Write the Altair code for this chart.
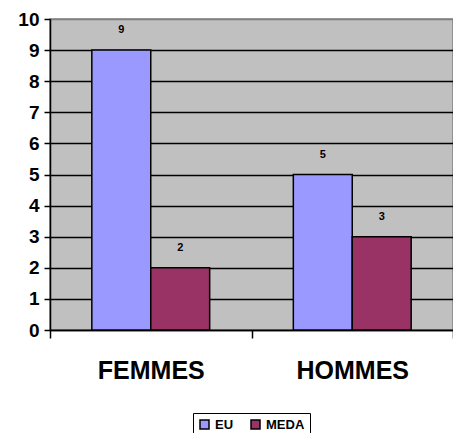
import altair as alt
import pandas as pd

categories = ["FEMMES", "FEMMES", "HOMMES", "HOMMES"]
series = ["EU", "MEDA", "EU", "MEDA"]
values = [9, 2, 5, 3]
y_ticks = list(range(0, 11))

df = pd.DataFrame({"cat": categories, "serie": series, "val": values})

FONT = "Liberation Sans"

x = alt.X(
    "cat:N", title=None,
    scale=alt.Scale(paddingInner=0, paddingOuter=0),
    axis=alt.Axis(labelAngle=0, labelFont=FONT, labelFontSize=25, labelFontWeight="bold",
                  labelColor="black", labelPadding=20, tickBand="extent", tickSize=8,
                  tickColor="black", tickWidth=1.5, domainColor="black", domainWidth=1.5, grid=False),
)
xo = alt.XOffset("serie:N", scale=alt.Scale(paddingInner=0, paddingOuter=0.71))
y = alt.Y(
    "val:Q", title=None,
    scale=alt.Scale(domain=[0, 10], nice=False),
    axis=alt.Axis(values=y_ticks, labelFont=FONT, labelFontSize=19, labelFontWeight="bold",
                  labelColor="black", labelPadding=5, tickSize=6, tickColor="black",
                  tickWidth=1.5, domainColor="black", domainWidth=1.5, grid=True,
                  gridColor={"condition": {"test": "datum.value == 10", "value": "#808080"}, "value": "black"},
                  gridWidth=1.5, gridOpacity=1),
)
color = alt.Color(
    "serie:N", title=None,
    scale=alt.Scale(domain=["EU", "MEDA"], range=["#9999FF", "#993366"]),
    legend=alt.Legend(orient="none", legendX=143, legendY=394, direction="horizontal",
                      strokeColor="black", padding=5, symbolType="square", symbolSize=81,
                      symbolStrokeColor="black", symbolStrokeWidth=1.5,
                      labelFont=FONT, labelFontSize=13, labelFontWeight="bold",
                      labelColor="black", columnPadding=14, labelOffset=4),
)

bars = alt.Chart(df).mark_bar(stroke="black", strokeWidth=1.5).encode(
    x=x, xOffset=xo, y=y, color=color
)
labels = alt.Chart(df).mark_text(font=FONT, fontSize=11, fontWeight="bold", color="black",
                                  baseline="middle", dy=-20).encode(
    x=x, xOffset=xo, y=y, text="val:Q"
)

chart = (bars + labels).properties(
    width=403, height=311,
    autosize=alt.AutoSizeParams(type="none"),
    padding={"left": 42, "top": 11, "right": 0, "bottom": 103},
).configure_view(fill="#C0C0C0", stroke="#808080", strokeWidth=1.5)

chart.save("out.html", embed_options={"renderer": "svg", "actions": False})
